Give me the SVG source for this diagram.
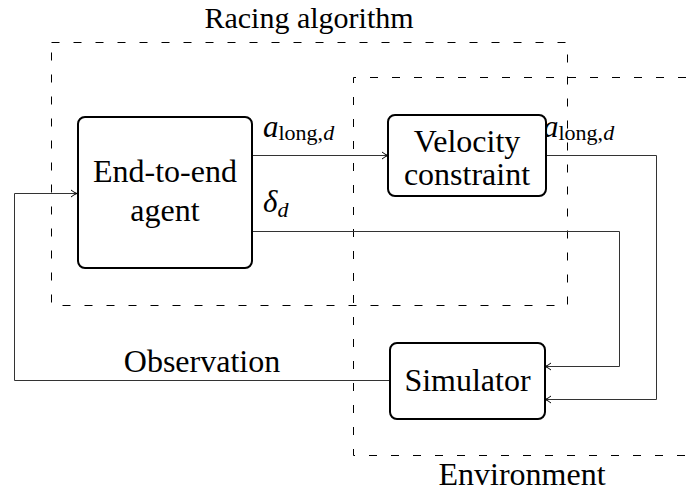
<svg xmlns="http://www.w3.org/2000/svg" width="686" height="499" viewBox="0 0 686 499">
<style>
text{font-family:Liberation Serif,Times New Roman,serif;fill:#000}
.t{font-size:32px}
.h{font-size:30px}
.m{font-size:31px;font-style:italic}
.s{font-size:22px}
.si{font-size:22px;font-style:italic}
.box{fill:#fff;stroke:#000;stroke-width:2}
.dash{fill:none;stroke:#000;stroke-width:1;stroke-dasharray:8,14}
.c{fill:none;stroke:#333;stroke-width:1}
</style>
<defs>
<marker id="ah" markerWidth="10" markerHeight="10" refX="8" refY="5" orient="auto" markerUnits="userSpaceOnUse">
<path d="M2,1.5 Q5,4 8,5 Q5,6 2,8.5" fill="none" stroke="#000" stroke-width="1"/>
</marker>
</defs>
<g id="racing-algorithm">
<rect x="51.5" y="42.5" width="516" height="263" class="dash"/>
<text x="309" y="27.5" class="h" text-anchor="middle">Racing algorithm</text>
</g>
<g id="environment">
<path d="M686,77.5 H353.5 V455.5 H686" class="dash"/>
<text x="522" y="485" class="t" text-anchor="middle">Environment</text>
</g>
<g id="connectors">
<path d="M252,155.5 H388" class="c" marker-end="url(#ah)"/>
<path d="M546,155.5 H656.5 V399.5 H545" class="c" marker-end="url(#ah)"/>
<path d="M252,231.5 H619.5 V366.5 H545" class="c" marker-end="url(#ah)"/>
<path d="M390,380.5 H14.5 V193.5 H77" class="c" marker-end="url(#ah)"/>
<text x="263" y="137"><tspan class="m">a</tspan><tspan class="s" dy="3">long,</tspan><tspan class="si">d</tspan></text>
<text x="543" y="137"><tspan class="m">a</tspan><tspan class="s" dy="3">long,</tspan><tspan class="si">d</tspan></text>
<text x="263" y="212"><tspan class="m">δ</tspan><tspan class="si" dy="5">d</tspan></text>
<text x="202" y="372" class="t" text-anchor="middle">Observation</text>
</g>
<g id="agent">
<rect x="78" y="117" width="174" height="151" rx="7" class="box"/>
<text x="165" y="182" class="t" text-anchor="middle">End-to-end</text>
<text x="165" y="221" class="t" text-anchor="middle">agent</text>
</g>
<g id="velocity-constraint">
<rect x="388" y="115" width="158" height="81" rx="7" class="box"/>
<text x="467" y="152" class="t" text-anchor="middle">Velocity</text>
<text x="467" y="185" class="t" text-anchor="middle">constraint</text>
</g>
<g id="simulator">
<rect x="390" y="343" width="155" height="76" rx="7" class="box"/>
<text x="467.5" y="391" class="t" text-anchor="middle">Simulator</text>
</g>
</svg>
